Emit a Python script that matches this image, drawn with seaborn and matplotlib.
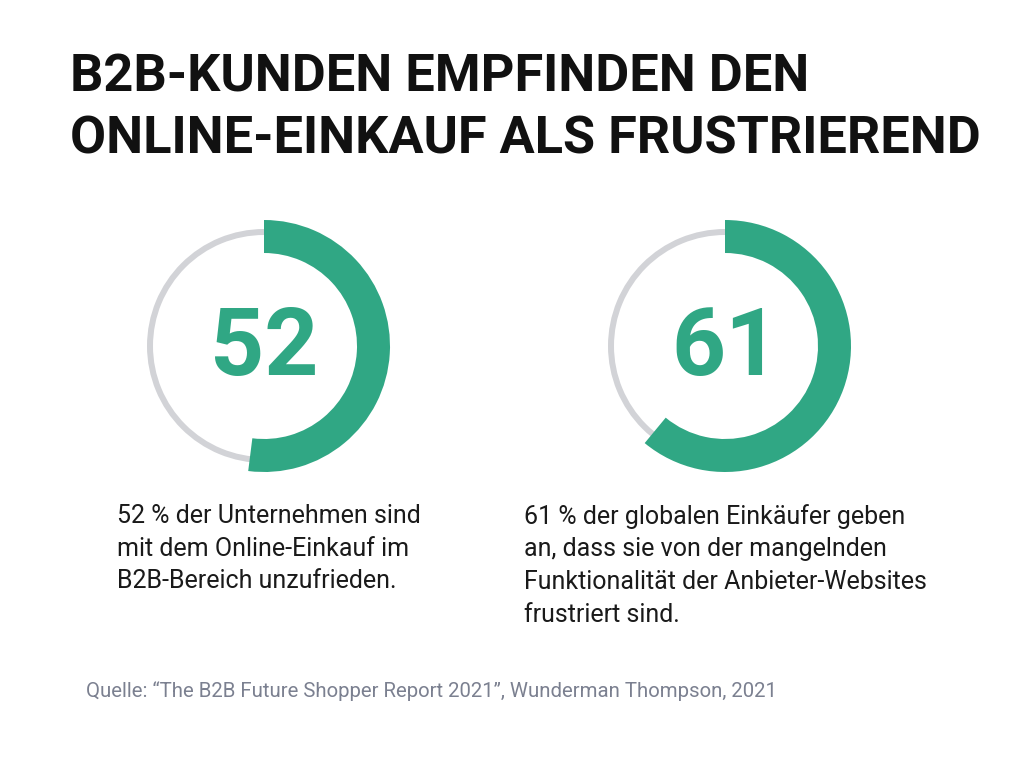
import matplotlib
matplotlib.use("Agg")
import matplotlib.pyplot as plt
import seaborn as sns

sns.set_theme(style="white")
plt.rcParams['font.family'] = ['Roboto', 'DejaVu Sans']

# ---- data ----
title_lines = ["B2B-KUNDEN EMPFINDEN DEN", "ONLINE-EINKAUF ALS FRUSTRIEREND"]
values = [52, 61]
labels = ["52", "61"]
captions = [
    "52 % der Unternehmen sind\nmit dem Online-Einkauf im\nB2B-Bereich unzufrieden.",
    "61 % der globalen Einkäufer geben\nan, dass sie von der mangelnden\nFunktionalität der Anbieter-Websites\nfrustriert sind.",
]
source = "Quelle: \u201cThe B2B Future Shopper Report 2021\u201d, Wunderman Thompson, 2021"

GREEN = "#30a784"
GREY = "#d2d3d7"
W, H = 1024, 768

fig = plt.figure(figsize=(W / 100, H / 100), dpi=100)
fig.patch.set_facecolor("white")

bg = fig.add_axes([0, 0, 1, 1])
bg.set_xlim(0, W)
bg.set_ylim(H, 0)
bg.axis("off")

renderer = fig.canvas.get_renderer()


def fit(t, target):
    w = t.get_window_extent(renderer).width
    t.set_fontsize(t.get_fontsize() * target / w)


t1 = bg.text(70, 92, title_lines[0], fontsize=38, fontweight="bold", color="#111111",
             va="baseline", ha="left")
t2 = bg.text(70, 153, title_lines[1], fontsize=38, fontweight="bold", color="#111111",
             va="baseline", ha="left")
w1 = t1.get_window_extent(renderer).width
w2 = t2.get_window_extent(renderer).width
fs = 38 * (758 / w1 + 888 / w2) / 2
t1.set_fontsize(fs)
t2.set_fontsize(fs)

centers = [(264, 346), (725, 346)]
R = 126
for (cx, cy), v, lab in zip(centers, values, labels):
    ax = fig.add_axes([(cx - R) / W, 1 - (cy + R) / H, 2 * R / W, 2 * R / H])
    ax.pie([1], radius=117 / R, colors=[GREY], startangle=90,
           wedgeprops=dict(width=6 / R, linewidth=0))
    ax.pie([v, 100 - v], radius=1.0, colors=[GREEN, "none"], startangle=90,
           counterclock=False, wedgeprops=dict(width=33 / R, linewidth=0))
    ax.set_xlim(-1, 1)
    ax.set_ylim(-1, 1)
    ax.set_aspect("equal")
    ax.axis("off")
    ax.text(0, -0.02, lab, ha="center", va="center", fontsize=68, fontweight="bold",
            color=GREEN)

cap_x = [117, 524]
for x, cap in zip(cap_x, captions):
    bg.text(x, 504, cap, fontsize=18, color="#1a1a1a", ha="left", va="top",
            linespacing=1.45)

ts = bg.text(86, 691, source, fontsize=14, color="#7b8090", ha="left", va="center")
fit(ts, 699)

fig.savefig("out.png", dpi=100, facecolor="white")
